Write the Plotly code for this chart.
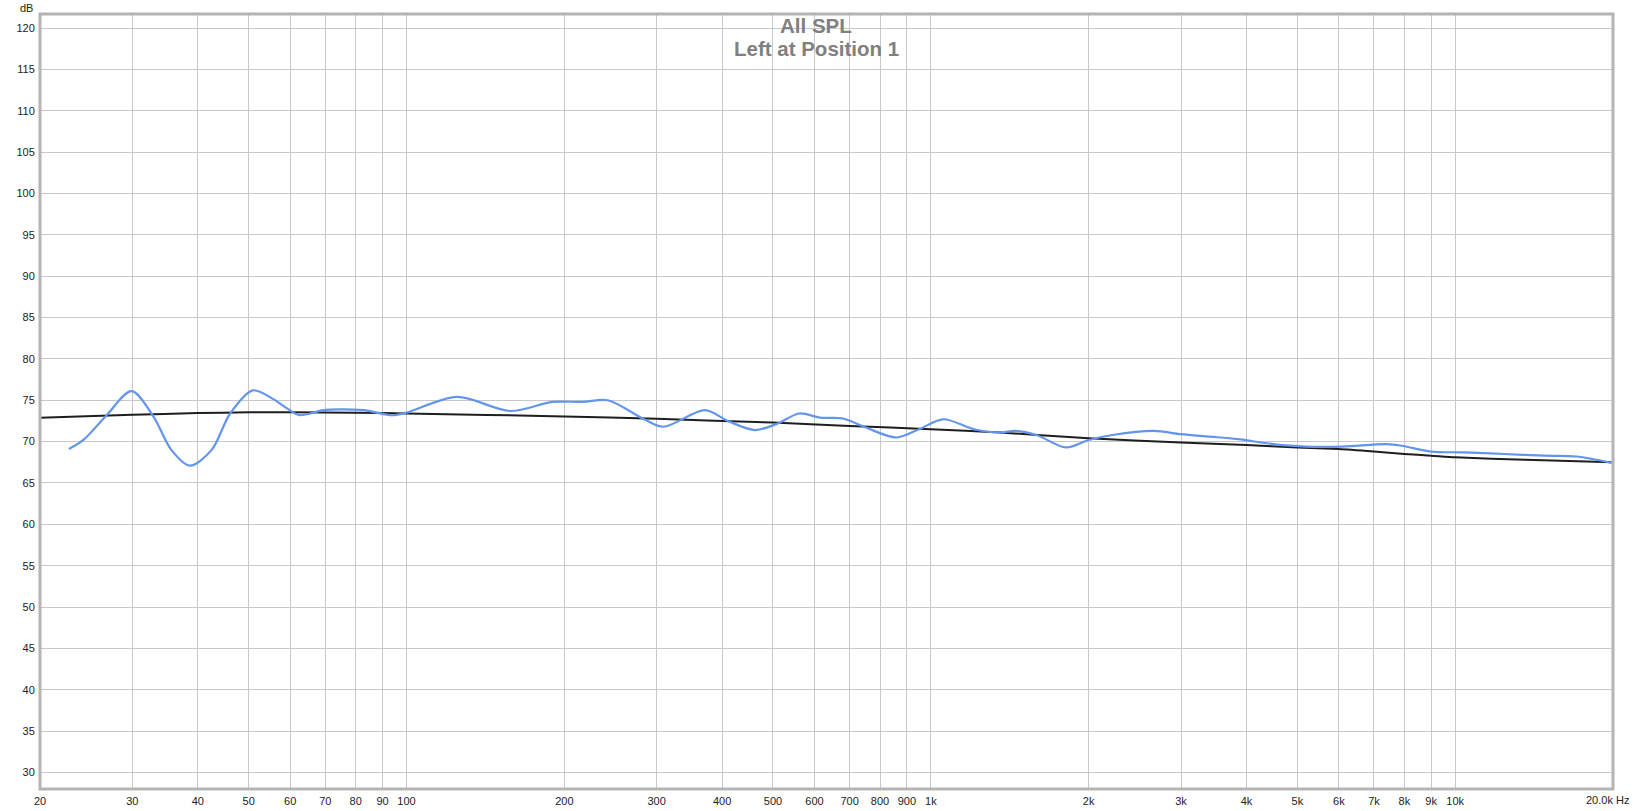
import numpy as np
import plotly.graph_objects as go

# ---- data ----
freq_blue = [22.7, 24.2, 26.8, 29.9, 32.9, 35.6, 38.6, 42.5, 46.1, 50.9, 55.5, 59.9, 62.5,
             69.4, 74.5, 82.8, 94.2, 100, 124.8, 157.8, 189.8, 217, 242, 284, 309, 371, 410,
             462, 511, 561, 615, 680, 752, 860, 950, 1055, 1210, 1355, 1450, 1590, 1810,
             2000, 2220, 2660, 3000, 3410, 3850, 4500, 5190, 6090, 7400, 7900, 9000, 10400,
             12400, 14800, 17000, 18300, 20000]
spl_blue = [69.1, 70.2, 73.2, 76.1, 73.05, 69.0, 67.1, 69.0, 73.4, 76.2, 75.2, 73.8, 73.2,
            73.8, 73.9, 73.8, 73.2, 73.5, 75.4, 73.7, 74.8, 74.8, 75.0, 72.7, 71.8, 73.8, 72.5,
            71.4, 72.2, 73.4, 72.9, 72.8, 71.7, 70.5, 71.5, 72.7, 71.5, 71.1, 71.3, 70.8, 69.3,
            70.2, 70.8, 71.3, 70.9, 70.6, 70.3, 69.7, 69.4, 69.4, 69.7, 69.5, 68.8, 68.7,
            68.5, 68.3, 68.2, 67.9, 67.4]

freq_black = [20, 30, 40, 50, 60, 80, 100, 200, 300, 500, 700, 1000, 1355, 2000, 3000,
              4000, 5000, 6000, 7000, 8000, 9000, 10000, 13600, 20000]
spl_black = [72.9, 73.25, 73.45, 73.55, 73.55, 73.5, 73.4, 73.05, 72.75, 72.3, 71.9, 71.5,
             71.1, 70.4, 69.9, 69.6, 69.3, 69.1, 68.8, 68.5, 68.3, 68.1, 67.8, 67.5]

x_tickvals = [20, 30, 40, 50, 60, 70, 80, 90, 100, 200, 300, 400, 500, 600, 700, 800, 900,
              1000, 2000, 3000, 4000, 5000, 6000, 7000, 8000, 9000, 10000, 20000]
x_ticktext = ["20", "30", "40", "50", "60", "70", "80", "90", "100", "200", "300", "400",
              "500", "600", "700", "800", "900", "1k", "2k", "3k", "4k", "5k", "6k", "7k",
              "8k", "9k", "10k", ""]
decades = [100, 1000, 10000]
y_tickvals = list(range(30, 125, 5))

title_lines = ["All SPL", "Left at Position 1"]

fig = go.Figure()
fig.add_trace(go.Scatter(x=freq_black, y=spl_black, mode="lines",
                         line=dict(color="#1e1e1e", width=2, shape="spline", smoothing=0.6),
                         hoverinfo="skip", showlegend=False))
fig.add_trace(go.Scatter(x=freq_blue, y=spl_blue, mode="lines",
                         line=dict(color="#6495ED", width=2.2, shape="spline", smoothing=0.9),
                         hoverinfo="skip", showlegend=False))

font_fam = "Liberation Sans, Arial, sans-serif"

fig.update_layout(
    width=1633, height=811,
    margin=dict(l=40, r=20, t=14, b=22, autoexpand=False),
    paper_bgcolor="white", plot_bgcolor="white",
    showlegend=False,
    font=dict(family=font_fam, size=11, color="#222222"),
)
fig.update_xaxes(type="log", range=[np.log10(20), np.log10(20000)],
                 tickmode="array", tickvals=x_tickvals, ticktext=x_ticktext,
                 showgrid=True, gridcolor="#c8c8c8", gridwidth=1, automargin=False,
                 zeroline=False, showline=False, ticks="outside", ticklen=2,
                 tickcolor="rgba(0,0,0,0)",
                 tickfont=dict(family=font_fam, size=11, color="#222222"))
fig.update_yaxes(range=[28, 121.7], tickmode="array", tickvals=y_tickvals,
                 showgrid=True, gridcolor="#c8c8c8", gridwidth=1, automargin=False,
                 zeroline=False, showline=False, ticks="outside", ticklen=2,
                 tickcolor="rgba(0,0,0,0)",
                 tickfont=dict(family=font_fam, size=11, color="#222222"))

for d in decades:
    fig.add_shape(type="line", xref="x", yref="paper", x0=np.log10(d), x1=np.log10(d),
                  y0=0, y1=1, line=dict(color="#8c8c8c", width=1), layer="below")

# frame
fig.add_shape(type="rect", xref="paper", yref="paper", x0=0, x1=1, y0=0, y1=1,
              line=dict(color="#b4b4b4", width=3), layer="above")

# title (two lines)
fig.add_annotation(xref="paper", yref="paper", x=0.4935, y=1, yanchor="middle", yshift=-11,
                   text="<b>" + title_lines[0] + "</b>", showarrow=False,
                   font=dict(family=font_fam, size=20.5, color="#808080"))
fig.add_annotation(xref="paper", yref="paper", x=0.4935, y=1, yanchor="middle", yshift=-34,
                   text="<b>" + title_lines[1] + "</b>", showarrow=False,
                   font=dict(family=font_fam, size=20.5, color="#808080"))
# axis unit labels
fig.add_annotation(xref="paper", yref="paper", x=0, y=1, xanchor="right", yanchor="bottom",
                   xshift=-5, yshift=-2, text="dB", showarrow=False,
                   font=dict(family=font_fam, size=11, color="#222222"))
fig.add_annotation(xref="paper", yref="paper", x=1, y=0, xanchor="right", yanchor="top",
                   xshift=18, yshift=-3, text="20.0k Hz", showarrow=False,
                   font=dict(family=font_fam, size=11, color="#222222"))

fig.write_html("out.html", config={"displayModeBar": False},
               post_script="document.body.style.margin='0';document.body.style.overflow='hidden';")
